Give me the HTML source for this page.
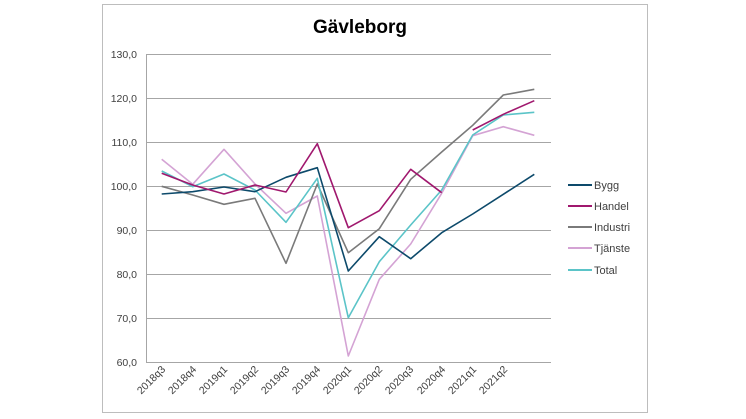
<!DOCTYPE html>
<html><head><meta charset="utf-8"><style>
body{margin:0;background:#fff;}
svg{display:block;font-family:"Liberation Sans",sans-serif;}
</style></head><body>
<svg width="746" height="419" viewBox="0 0 746 419">
<rect x="0" y="0" width="746" height="419" fill="#fff"/>
<rect x="102.5" y="4.5" width="545" height="408" fill="#fff" stroke="#bdbdbd" stroke-width="1"/>
<text x="360" y="33" text-anchor="middle" font-size="19" font-weight="bold" fill="#000">Gävleborg</text>
<g stroke="#a6a6a6" stroke-width="1">
<line x1="146" y1="54.5" x2="551" y2="54.5"/>
<line x1="146" y1="98.5" x2="551" y2="98.5"/>
<line x1="146" y1="142.5" x2="551" y2="142.5"/>
<line x1="146" y1="186.5" x2="551" y2="186.5"/>
<line x1="146" y1="230.5" x2="551" y2="230.5"/>
<line x1="146" y1="274.5" x2="551" y2="274.5"/>
<line x1="146" y1="318.5" x2="551" y2="318.5"/>
<line x1="146" y1="362.5" x2="551" y2="362.5"/>
<line x1="146.5" y1="54" x2="146.5" y2="362"/>
</g>
<g font-size="10.5" fill="#404040" text-anchor="end">
<text x="137" y="58">130,0</text>
<text x="137" y="102">120,0</text>
<text x="137" y="146">110,0</text>
<text x="137" y="190">100,0</text>
<text x="137" y="234">90,0</text>
<text x="137" y="278">80,0</text>
<text x="137" y="322">70,0</text>
<text x="137" y="366">60,0</text>
</g>
<g font-size="10.5" fill="#404040" text-anchor="end">
<text transform="translate(166,370) rotate(-45)">2018q3</text>
<text transform="translate(197,370) rotate(-45)">2018q4</text>
<text transform="translate(228,370) rotate(-45)">2019q1</text>
<text transform="translate(259,370) rotate(-45)">2019q2</text>
<text transform="translate(290,370) rotate(-45)">2019q3</text>
<text transform="translate(321,370) rotate(-45)">2019q4</text>
<text transform="translate(352,370) rotate(-45)">2020q1</text>
<text transform="translate(383,370) rotate(-45)">2020q2</text>
<text transform="translate(414,370) rotate(-45)">2020q3</text>
<text transform="translate(446,370) rotate(-45)">2020q4</text>
<text transform="translate(477,370) rotate(-45)">2021q1</text>
<text transform="translate(508,370) rotate(-45)">2021q2</text>
</g>
<g fill="none" stroke-width="1.6" stroke-linejoin="round">
<polyline stroke="#d4a3d4" points="161.7,159.3 192.7,184.3 224,149.3 255,184 286,213.3 317.3,196 348.3,356 379.3,279.3 410.7,244 441.7,193.3 472.7,135.7 503.3,126.7 534.3,135.3"/>
<polyline stroke="#7a7a7a" points="161.7,186.3 192.7,195 224,204.3 255,198.3 286,263.3 317.3,184 348.3,252.7 379.3,228.7 410.7,179.3 441.7,152 472.7,125.3 503.3,95 534.3,89.3"/>
<polyline stroke="#5bc4c8" points="161.7,171 192.7,186.7 224,174 255,190 286,222.3 317.3,178.3 348.3,317.7 379.3,261.7 410.7,225 441.7,190 472.7,135 503.3,115 534.3,112.3"/>
<polyline stroke="#0d4a6b" points="161.7,194 192.7,191.7 224,187 255,191.7 286,177.3 317.3,167.7 348.3,271 379.3,236.7 410.7,258.7 441.7,232.7 472.7,214 503.3,194.3 534.3,174.3"/>
<polyline stroke="#a0186e" points="161.7,173.3 192.7,185 224,194 255,185 286,192 317.3,143.7 348.3,227.7 379.3,210.7 410.7,169.3 441.7,192.7"/>
<polyline stroke="#a0186e" points="472.7,130 503.3,114.3 534.3,100.7"/>
</g>
<g stroke-width="2">
<line x1="568" y1="185" x2="592" y2="185" stroke="#0d4a6b"/>
<line x1="568" y1="206" x2="592" y2="206" stroke="#a0186e"/>
<line x1="568" y1="227" x2="592" y2="227" stroke="#7a7a7a"/>
<line x1="568" y1="248" x2="592" y2="248" stroke="#d4a3d4"/>
<line x1="568" y1="270" x2="592" y2="270" stroke="#5bc4c8"/>
</g>
<g font-size="11" fill="#404040">
<text x="594" y="189">Bygg</text>
<text x="594" y="210">Handel</text>
<text x="594" y="231">Industri</text>
<text x="594" y="252">Tjänste</text>
<text x="594" y="274">Total</text>
</g>
</svg>
</body></html>
